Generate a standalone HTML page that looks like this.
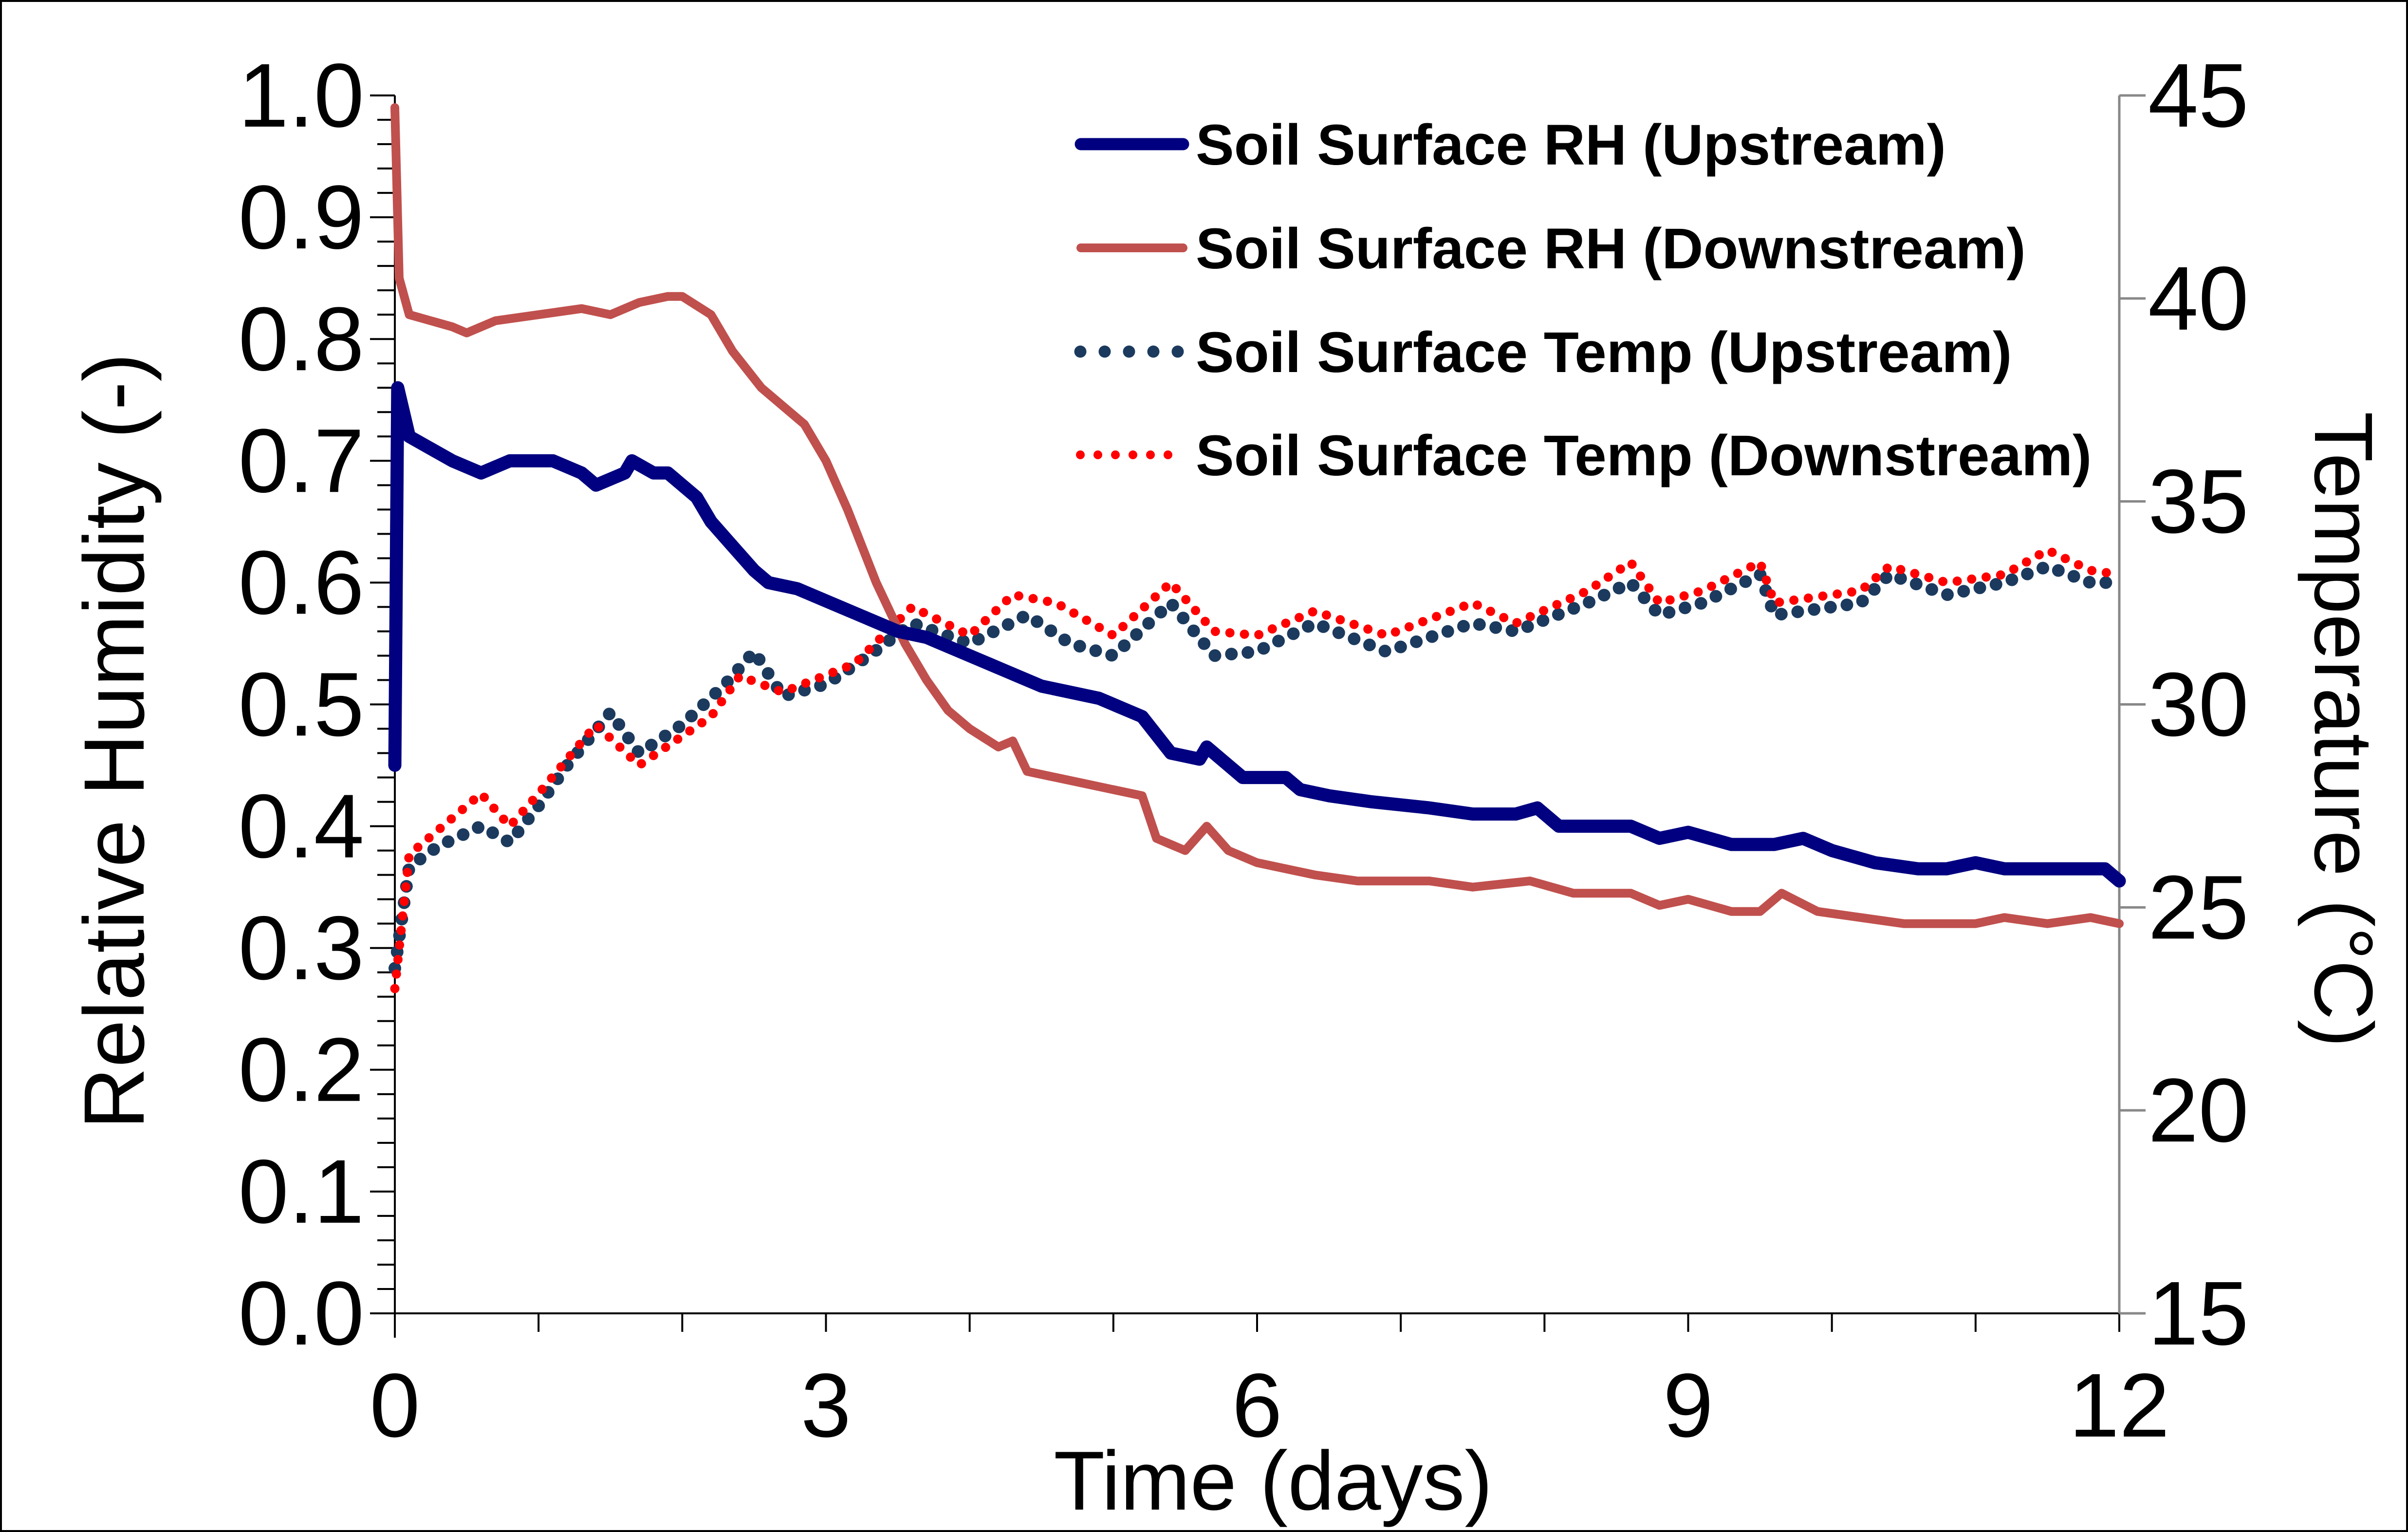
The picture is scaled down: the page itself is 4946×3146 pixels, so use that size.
<!DOCTYPE html>
<html><head><meta charset="utf-8"><style>
html,body{margin:0;padding:0;background:#fff}
svg{display:block}
text{font-family:"Liberation Sans",Arial,sans-serif}
</style></head><body>
<svg id="chart" xmlns="http://www.w3.org/2000/svg" width="4946" height="3146" viewBox="0 0 4946 3146">
<rect x="2" y="2" width="4942" height="3142" fill="#fff" stroke="#000" stroke-width="4"/>
<g id="axes"></g>
<g id="series"></g>
<text x="2615" y="3100" font-size="172" text-anchor="middle">Time (days)</text>
<text transform="translate(295,1522) rotate(-90)" font-size="176" text-anchor="middle">Relative Humidity (-)</text>
<text transform="translate(4755,1498) rotate(90)" font-size="170" text-anchor="middle">Temperature (°C)</text>
<g font-size="118" font-weight="bold">
 <line x1="2220" y1="296" x2="2430" y2="296" stroke="#000080" stroke-width="25" stroke-linecap="round"/>
 <text x="2456" y="338">Soil Surface RH (Upstream)</text>
 <line x1="2220" y1="509" x2="2430" y2="509" stroke="#C0504D" stroke-width="18" stroke-linecap="round"/>
 <text x="2456" y="551">Soil Surface RH (Downstream)</text>
 <line x1="2219" y1="722" x2="2420" y2="722" stroke="#1B3A5E" stroke-width="25" stroke-linecap="round" stroke-dasharray="0 50"/>
 <text x="2456" y="764">Soil Surface Temp (Upstream)</text>
 <line x1="2219" y1="934" x2="2400" y2="934" stroke="#FF0000" stroke-width="18" stroke-linecap="round" stroke-dasharray="0 36"/>
 <text x="2456" y="976">Soil Surface Temp (Downstream)</text>
</g>
</svg>
<script>
const xTickLabels=[0,3,6,9,12];
const yTickLabels=["0.0","0.1","0.2","0.3","0.4","0.5","0.6","0.7","0.8","0.9","1.0"];
const y2TickLabels=[15,20,25,30,35,40,45];
const rhUpT=[0,0.02,0.1,0.4,0.6,0.8,1.0,1.1,1.3,1.4,1.6,1.65,1.8,1.9,2.0,2.1,2.2,2.35,2.5,2.6,2.8,2.9,3.1,3.3,3.5,3.7,3.8,4.0,4.2,4.3,4.5,4.7,4.9,5.1,5.2,5.3,5.4,5.6,5.65,5.75,5.9,6.2,6.3,6.5,6.8,7.2,7.5,7.8,7.95,8.1,8.6,8.8,9.0,9.3,9.6,9.8,10.0,10.3,10.6,10.8,11.0,11.2,11.9,12.0];
const rhUpV=[0.45,0.76,0.72,0.70,0.69,0.70,0.70,0.70,0.69,0.68,0.69,0.70,0.69,0.69,0.68,0.67,0.65,0.63,0.61,0.60,0.595,0.59,0.58,0.57,0.56,0.555,0.55,0.54,0.53,0.525,0.515,0.51,0.505,0.495,0.49,0.475,0.46,0.455,0.465,0.455,0.44,0.44,0.43,0.425,0.42,0.415,0.41,0.41,0.415,0.40,0.40,0.39,0.395,0.385,0.385,0.39,0.38,0.37,0.365,0.365,0.37,0.365,0.365,0.355];
const rhDnT=[0,0.03,0.1,0.4,0.5,0.7,1.0,1.3,1.5,1.7,1.9,2.0,2.2,2.35,2.55,2.7,2.85,3.0,3.15,3.35,3.55,3.7,3.85,4.0,4.2,4.3,4.4,4.6,4.8,5.0,5.2,5.3,5.5,5.65,5.8,6.0,6.2,6.4,6.7,7.2,7.5,7.9,8.2,8.6,8.8,9.0,9.3,9.5,9.65,9.9,10.2,10.5,11.0,11.2,11.5,11.8,12.0];
const rhDnV=[0.99,0.85,0.82,0.81,0.805,0.815,0.82,0.825,0.82,0.83,0.835,0.835,0.82,0.79,0.76,0.745,0.73,0.70,0.66,0.60,0.55,0.52,0.495,0.48,0.465,0.47,0.445,0.44,0.435,0.43,0.425,0.39,0.38,0.40,0.38,0.37,0.365,0.36,0.355,0.355,0.35,0.355,0.345,0.345,0.335,0.34,0.33,0.33,0.345,0.33,0.325,0.32,0.32,0.325,0.32,0.325,0.32];
const tUpT=[0,0.1,0.3,0.6,0.8,1.0,1.2,1.5,1.7,2.0,2.3,2.5,2.7,3.0,3.3,3.6,4.0,4.4,4.7,5.0,5.4,5.7,6.0,6.4,6.9,7.5,7.8,8.3,8.6,8.8,9.1,9.5,9.6,10.2,10.4,10.8,11.2,11.5,11.8,12.0];
const tUpV=[23.5,26.0,26.5,27.0,26.6,27.5,28.5,29.8,28.8,29.5,30.5,31.3,30.2,30.5,31.2,32.0,31.5,32.2,31.5,31.2,32.5,31.2,31.3,32.0,31.3,32.0,31.8,32.5,33.0,32.2,32.5,33.2,32.2,32.5,33.2,32.7,33.0,33.4,33.0,33.0];
const tDnT=[0,0.1,0.4,0.6,0.8,1.0,1.4,1.7,2.2,2.4,2.7,3.2,3.6,4.0,4.3,4.6,5.0,5.4,5.7,6.0,6.4,6.9,7.5,7.8,8.3,8.6,8.8,9.1,9.5,9.6,10.2,10.4,10.8,11.2,11.5,11.8,12.0];
const tDnV=[23.0,26.3,27.2,27.8,27.0,27.8,29.5,28.5,29.7,30.7,30.3,31.0,32.4,31.7,32.7,32.5,31.7,33.0,31.8,31.7,32.3,31.7,32.5,32.0,32.8,33.5,32.5,32.8,33.5,32.5,32.8,33.4,33.0,33.2,33.8,33.3,33.2];

const X0=811,X1=4353,Y0=2697,Y1=196;
const xs=t=>X0+(X1-X0)*t/12;
const ys=v=>Y0-(Y0-Y1)*v/1.0;
const y2s=v=>Y0-(Y0-Y1)*(v-15)/30;
const NS="http://www.w3.org/2000/svg";
const axes=document.getElementById('axes'),series=document.getElementById('series');
function mk(tag,parent,attrs){const e=document.createElementNS(NS,tag);for(const k in attrs)e.setAttribute(k,attrs[k]);parent.appendChild(e);return e;}

let e=mk('line',axes,{x1:X0,y1:Y1,x2:X0,y2:Y0+50,stroke:'#000','stroke-width':4});


for(let i=0;i<=50;i++){const y=ys(i*0.02);const l=mk('line',axes,{x1:(i%5==0?760:775),y1:y,x2:X0,y2:y,stroke:'#000','stroke-width':4});

}
yTickLabels.forEach((s,i)=>{const t=mk('text',axes,{x:748,y:ys(i*0.1)+64,'font-size':186,'text-anchor':'end'});t.textContent=s;

});
e=mk('line',axes,{x1:760,y1:Y0,x2:X1,y2:Y0,stroke:'#000','stroke-width':4});


for(let d=1;d<=12;d++){const l=mk('line',axes,{x1:xs(d),y1:Y0,x2:xs(d),y2:Y0+38,stroke:'#000','stroke-width':4});

}
xTickLabels.forEach(v=>{const t=mk('text',axes,{x:xs(v),y:2950,'font-size':186,'text-anchor':'middle'});t.textContent=v;

});
e=mk('line',axes,{x1:X1,y1:Y1,x2:X1,y2:Y0,stroke:'#888','stroke-width':5});


y2TickLabels.forEach(v=>{const y=y2s(v);const l=mk('line',axes,{x1:X1,y1:y,x2:X1+54,y2:y,stroke:'#888','stroke-width':5});


const t=mk('text',axes,{x:4412,y:y+64,'font-size':186});t.textContent=v;

});

function pts(T,V,f){return T.map((t,i)=>xs(t).toFixed(1)+','+f(V[i]).toFixed(1)).join(' ');}
let p=mk('polyline',series,{points:pts(tUpT,tUpV,y2s),fill:'none',stroke:'#1B3A5E','stroke-width':26,'stroke-linecap':'round','stroke-dasharray':'0 34'});


p=mk('polyline',series,{points:pts(tDnT,tDnV,y2s),fill:'none',stroke:'#FF0000','stroke-width':19,'stroke-linecap':'round','stroke-dasharray':'0 30'});


p=mk('polyline',series,{points:pts(rhDnT,rhDnV,ys),fill:'none',stroke:'#C0504D','stroke-width':18,'stroke-linejoin':'round','stroke-linecap':'round'});


p=mk('polyline',series,{points:pts(rhUpT,rhUpV,ys),fill:'none',stroke:'#000080','stroke-width':27,'stroke-linejoin':'round','stroke-linecap':'round'});


</script>
</body></html>
